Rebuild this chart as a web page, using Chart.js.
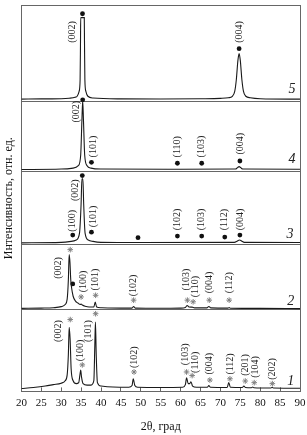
<!DOCTYPE html>
<html>
<head>
<meta charset="utf-8">
<script src="https://cdn.jsdelivr.net/npm/chart.js@4/dist/chart.umd.min.js"></script>
<style>
  html, body { margin: 0; padding: 0; background: #fff; }
  #wrap { width: 307px; height: 435px; }
</style>
</head>
<body>
<div id="wrap"><canvas id="xrdChart"></canvas></div>
<script>
// 2theta (deg) and intensity (rel. units above each curve's baseline), curve 1 = bottom
const tth1 = [20, 23, 26, 28, 30, 31, 31.5, 31.8, 32.0, 32.25, 32.5, 33, 33.8, 34.4, 34.7, 34.9, 35.1, 35.5, 36.5, 37.5, 38.2, 38.45, 38.6, 38.8, 39.1, 40, 43, 47, 47.8, 48.1, 48.5, 49.2, 55, 60.5, 61.2, 61.5, 61.9, 62.3, 62.6, 63.0, 64, 66.7, 67.1, 67.5, 71.7, 72.1, 72.5, 75.5, 75.9, 76.3, 77.8, 78.1, 78.4, 82.7, 83.0, 83.3, 90];
const int1 = [0, 1, 2.5, 4, 5.5, 8, 14, 35, 63, 50, 20, 8, 5, 6, 14, 19, 12, 5, 3.5, 3.5, 8, 45, 68.5, 35, 6, 2.5, 1.5, 1.3, 3, 10, 3, 1.2, 1, 1.2, 4, 11, 5, 5, 7, 2.5, 1.2, 1.2, 3, 1.2, 1, 6, 1.2, 1, 2.5, 1, 0.8, 1.5, 0.8, 0.5, 1.2, 0.5, 0.3];

const tth2 = [20, 25, 28, 30, 31, 31.5, 31.8, 32.0, 32.2, 32.4, 32.6, 33.0, 33.6, 34.2, 34.8, 35, 35.3, 36, 37, 38.2, 38.55, 38.9, 40, 45, 47.8, 48.2, 48.6, 55, 60, 61.2, 61.65, 62.1, 62.9, 63.5, 66.6, 67.1, 67.6, 71.9, 72.2, 72.5, 80, 90];
const int2 = [0.5, 0.8, 1.2, 2.3, 4.5, 10, 30, 56, 48, 30, 22, 13, 8, 6, 4.5, 5, 4, 2.8, 2, 2, 7, 2, 1.2, 0.8, 0.8, 2.5, 0.8, 0.6, 0.8, 1.5, 3.5, 2, 1.8, 1, 1, 2.5, 1, 0.8, 1.3, 0.7, 0.5, 0.3];

const tth3 = [20, 30, 32.5, 33.8, 34.6, 35.0, 35.2, 35.45, 35.65, 36.0, 36.8, 38, 40, 50, 73.5, 74.3, 74.8, 75.3, 76, 90];
const int3 = [0, 0.5, 1.5, 3, 10, 40, 66, 66, 40, 10, 3, 1.5, 0.5, 0.3, 0.5, 2, 3, 2, 0.5, 0.3];

const tth4 = [20, 30, 33, 34.3, 34.9, 35.2, 35.4, 35.6, 35.9, 36.5, 37.5, 40, 60, 73.8, 74.3, 74.7, 75.1, 75.6, 90];
const int4 = [0, 0.5, 1.5, 4, 15, 50, 71, 50, 15, 4, 1.5, 0.5, 0.3, 0.5, 2, 3, 2, 0.5, 0.3];

const tth5 = [20, 25, 30, 32, 33.5, 34.0, 34.5, 34.75, 34.85, 34.9, 35.8, 35.85, 35.95, 36.2, 36.7, 38, 45, 55, 65, 70, 72.0, 73.0, 73.6, 74.0, 74.4, 74.7, 75.0, 75.4, 75.8, 76.4, 77.5, 80, 90];
const int5 = [0, 0.3, 0.5, 1, 2, 3, 8, 20, 60, 84, 84, 60, 20, 8, 3, 1.2, 0.3, 0.2, 0.4, 0.8, 1.5, 3, 8, 20, 40, 47, 40, 20, 8, 3, 1.5, 0.5, 0];

// phase markers: [2theta, level]  (● and *)
const dots2 = [[32.9, 25.7]];
const dots3 = [[35.3, 69.3], [32.9, 8], [37.6, 11], [49.3, 5.3], [59.2, 7], [65.3, 7], [71.1, 6], [74.9, 8]];
const dots4 = [[35.4, 71.8], [37.6, 7.5], [59.2, 6.5], [65.3, 6.5], [74.9, 8.8]];
const dots5 = [[35.35, 88], [74.7, 52]];
const stars1 = [[32.27, 71], [35.3, 24.3], [38.65, 77], [48.3, 17], [61.5, 17], [62.9, 13.3], [67.35, 8.7], [72.4, 10], [76.25, 7.7], [78.5, 6], [83.05, 5]];
const stars2 = [[32.27, 61], [35.0, 12.3], [38.65, 14], [48.2, 9], [61.7, 9], [63.15, 7.3], [67.2, 9], [72.2, 9]];

// hkl labels: [2theta, level where text starts, text]
const hkl1 = [[29.4, 48, '(002)'], [34.85, 28, '(100)'], [36.9, 48, '(101)'], [48.3, 21, '(102)'], [61.2, 24, '(103)'], [63.6, 16, '(110)'], [67.35, 14.3, '(004)'], [72.4, 14.3, '(112)'], [76.2, 13, '(201)'], [78.9, 11, '(104)'], [83.05, 9, '(202)']];
const hkl2 = [[29.4, 31, '(002)'], [35.45, 17, '(100)'], [38.65, 19, '(101)'], [48.2, 13, '(102)'], [61.5, 19, '(103)'], [63.75, 12, '(110)'], [67.35, 16, '(004)'], [72.2, 16, '(112)']];
const hkl3 = [[33.6, 43, '(002)'], [32.9, 11.5, '(100)'], [38.15, 16, '(101)'], [59.2, 13, '(102)'], [65.3, 13, '(103)'], [71.1, 13, '(112)'], [74.9, 13, '(004)']];
const hkl4 = [[33.8, 48.5, '(002)'], [38.15, 12.5, '(101)'], [59.2, 12.5, '(110)'], [65.3, 12.5, '(103)'], [74.9, 15.5, '(004)']];
const hkl5 = [[32.85, 58, '(002)'], [74.7, 58, '(004)']];

const curveNames = ['1', '2', '3', '4', '5'];
const xTicks = [20, 25, 30, 35, 40, 45, 50, 55, 60, 65, 70, 75, 80, 85, 90];

// layout: baseline of each curve and panel separators on the common y scale
const panelBase = [3, 85, 153, 228.5, 301];
const panelEdges = [0, 84, 151, 227, 299, 398];
const nameAt = [[87.7, 7], [87.7, 7.3], [87.5, 9], [88, 10.5], [88, 10]];

const curves = [[tth1, int1], [tth2, int2], [tth3, int3], [tth4, int4], [tth5, int5]];
const dotSets = [[], dots2, dots3, dots4, dots5];
const starSets = [stars1, stars2, [], [], []];
const hklSets = [hkl1, hkl2, hkl3, hkl4, hkl5];

const serif = "'Liberation Serif', 'DejaVu Serif', serif";
const lineColor = '#1a1a1a';
const frameColor = '#666';

const datasets = [];
curves.forEach(([tth, ints], p) => {
    datasets.push({
        type: 'line',
        data: tth.map((t, i) => ({ x: t, y: panelBase[p] + ints[i] })),
        borderColor: lineColor,
        borderWidth: 1.1,
        pointRadius: 0,
        fill: false,
        cubicInterpolationMode: 'monotone'
    });
});
dotSets.forEach((set, p) => {
    if (!set.length) return;
    datasets.push({
        type: 'scatter',
        data: set.map(([t, l]) => ({ x: t, y: panelBase[p] + l })),
        pointStyle: 'circle',
        pointRadius: 2.4,
        backgroundColor: '#111',
        borderColor: '#111',
        borderWidth: 0
    });
});
starSets.forEach((set, p) => {
    if (!set.length) return;
    datasets.push({
        type: 'scatter',
        data: set.map(([t, l]) => ({ x: t, y: panelBase[p] + l })),
        pointStyle: 'star',
        pointRadius: 2.8,
        backgroundColor: '#808080',
        borderColor: '#808080',
        borderWidth: 1
    });
});

const labelPlugin = {
    id: 'hklLabels',
    afterDatasetsDraw(chart) {
        const { ctx, scales: { x, y } } = chart;
        ctx.save();
        ctx.fillStyle = '#222';
        ctx.font = '10px ' + serif;
        ctx.textAlign = 'left';
        ctx.textBaseline = 'middle';
        hklSets.forEach((set, p) => {
            set.forEach(([t, l, txt]) => {
                ctx.save();
                ctx.translate(x.getPixelForValue(t), y.getPixelForValue(panelBase[p] + l));
                ctx.rotate(-Math.PI / 2);
                ctx.fillText(txt, 0, 0);
                ctx.restore();
            });
        });
        ctx.font = 'italic 14px ' + serif;
        ctx.textAlign = 'center';
        curveNames.forEach((name, p) => {
            const [t, l] = nameAt[p];
            ctx.fillText(name, x.getPixelForValue(t), y.getPixelForValue(panelBase[p] + l));
        });
        ctx.restore();
    }
};

new Chart(document.getElementById('xrdChart'), {
    data: { datasets },
    options: {
        responsive: true,
        maintainAspectRatio: false,
        animation: false,
        layout: { padding: { left: 0, right: 7, top: 1, bottom: 0 } },
        plugins: { legend: { display: false }, tooltip: { enabled: false } },
        scales: {
            x: {
                type: 'linear',
                position: 'bottom',
                min: 20,
                max: 90,
                afterBuildTicks: scale => { scale.ticks = xTicks.map(v => ({ value: v })); },
                // tick padding would otherwise widen the side margins
                afterFit: scale => { scale.paddingLeft = 0; scale.paddingRight = 0; },
                ticks: { color: '#111', font: { family: serif, size: 11 }, padding: 9, maxRotation: 0 },
                grid: { drawOnChartArea: false, tickLength: -4, color: frameColor },
                border: { color: frameColor },
                title: { display: true, text: '2θ, град', color: '#111', font: { family: serif, size: 12 }, padding: { top: 1, bottom: 1 } }
            },
            xTop: {
                type: 'linear',
                position: 'top',
                min: 20,
                max: 90,
                ticks: { display: false },
                grid: { drawOnChartArea: false, drawTicks: false },
                border: { color: frameColor }
            },
            y: {
                type: 'linear',
                position: 'left',
                min: 0,
                max: 398,
                afterBuildTicks: scale => { scale.ticks = panelEdges.map(v => ({ value: v })); },
                ticks: { display: false },
                grid: { color: frameColor, drawTicks: false },
                border: { color: frameColor },
                title: { display: true, text: 'Интенсивность, отн. ед.', color: '#111', font: { family: serif, size: 12 }, padding: { top: 2, bottom: 5 } }
            },
            yRight: {
                type: 'linear',
                position: 'right',
                min: 0,
                max: 1,
                ticks: { display: false },
                grid: { drawOnChartArea: false, drawTicks: false },
                border: { color: frameColor }
            }
        }
    },
    plugins: [labelPlugin]
});
</script>
</body>
</html>
